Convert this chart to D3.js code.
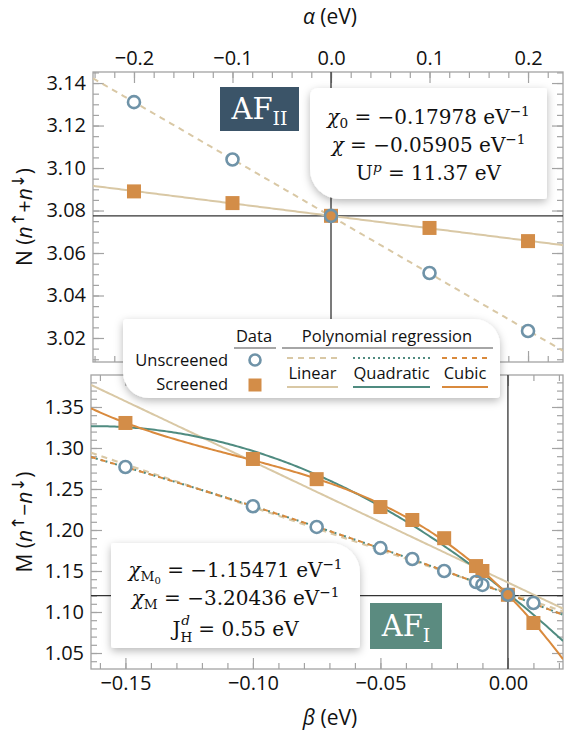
<!DOCTYPE html>
<meta charset="utf-8">
<script src="https://d3js.org/d3.v7.min.js"></script>
<style>
body { margin: 0; background-color: white; }
text { font-family: "Open Sans", "Noto Sans", sans-serif; fill: #111; }
</style>
<body>
<script>
// ---- data ----
var alphaVals = [-0.2, -0.1, 0.0, 0.1, 0.2];
var nUnscreened = [3.131, 3.104, 3.0775, 3.0506, 3.0233];
var nScreened = [3.089, 3.0835, 3.0775, 3.0718, 3.0656];

var betaVals = [-0.15, -0.1, -0.075, -0.05, -0.0375, -0.025, -0.0125, -0.01, 0.0, 0.01];
var mUnscreened = [1.2768, 1.229, 1.2037, 1.178, 1.1646, 1.15, 1.1366, 1.133, 1.121, 1.111];
var mScreened = [1.3305, 1.2866, 1.262, 1.228, 1.2122, 1.19, 1.156, 1.15, 1.121, 1.0866];

var alphaTicks = [-0.2, -0.1, 0.0, 0.1, 0.2];
var nTicks = [3.02, 3.04, 3.06, 3.08, 3.10, 3.12, 3.14];
var betaTicks = [-0.15, -0.10, -0.05, 0.00];
var mTicks = [1.05, 1.10, 1.15, 1.20, 1.25, 1.30, 1.35];

var c = {
  circle: "#6f93a8", square: "#d38d48", tan: "#d9c8a5", teal: "#4f8b80",
  orange: "#d98a3d", frame: "#a3a3a3", afII: "#3b5468", afI: "#5b8b80"
};

var svg = d3.select("body").append("svg")
  .attr("width", 565).attr("height", 743);

var defs = svg.append("defs");
var f = defs.append("filter").attr("id", "shadow")
  .attr("x", "-20%").attr("y", "-20%").attr("width", "140%").attr("height", "150%");
f.append("feDropShadow").attr("dx", 0).attr("dy", 3).attr("stdDeviation", 4)
  .attr("flood-color", "#000").attr("flood-opacity", 0.28);

// least squares polynomial fit
function polyfit(xs, ys, deg) {
  var n = deg + 1, A = [], b = [], i, j, k;
  for (i = 0; i < n; i++) {
    A[i] = [];
    for (j = 0; j < n; j++) A[i][j] = d3.sum(xs, function(x) { return Math.pow(x, i + j); });
    b[i] = d3.sum(xs, function(x, q) { return ys[q] * Math.pow(x, i); });
  }
  for (i = 0; i < n; i++) {
    for (k = i + 1; k < n; k++) {
      var m = A[k][i] / A[i][i];
      for (j = i; j < n; j++) A[k][j] -= m * A[i][j];
      b[k] -= m * b[i];
    }
  }
  var co = [];
  for (i = n - 1; i >= 0; i--) {
    var s = b[i];
    for (j = i + 1; j < n; j++) s -= A[i][j] * co[j];
    co[i] = s / A[i][i];
  }
  return function(x) { return d3.sum(co, function(a, p) { return a * Math.pow(x, p); }); };
}

function roundBox(x0, y0, x1, y1, r) { // r = [tl, tr, br, bl]
  var p = d3.path();
  p.moveTo(x0 + r[0], y0);
  p.lineTo(x1 - r[1], y0); p.arcTo(x1, y0, x1, y0 + r[1], r[1]);
  p.lineTo(x1, y1 - r[2]); p.arcTo(x1, y1, x1 - r[2], y1, r[2]);
  p.lineTo(x0 + r[3], y1); p.arcTo(x0, y1, x0, y1 - r[3], r[3]);
  p.lineTo(x0, y0 + r[0]); p.arcTo(x0, y0, x0 + r[0], y0, r[0]);
  p.closePath();
  return p.toString();
}

function drawPanel(o) {
  var g = svg.append("g");
  var x = o.x, y = o.y;
  var x0 = x.range()[0], x1 = x.range()[1], y0 = y.range()[1], y1 = y.range()[0];

  defs.append("clipPath").attr("id", o.id).append("rect")
    .attr("x", x0).attr("y", y0).attr("width", x1 - x0).attr("height", y1 - y0);

  // ticks (inward)
  function ax(axisFn, pos, vals, size, fmt, labels) {
    var a = axisFn.tickValues(vals).tickSize(-size).tickSizeOuter(0).tickPadding(7)
      .tickFormat(labels ? fmt : "");
    var gg = g.append("g").attr("transform", pos).call(a);
    gg.select(".domain").remove();
    gg.selectAll("line").attr("stroke", c.frame).attr("stroke-width", 1.2);
    gg.selectAll("text").style("font-size", "20px").attr("fill", "#111");
    return gg;
  }
  var xf = d3.format(o.xfmt), yf = d3.format(".2f");
  ax(d3.axisBottom(x), "translate(0," + y1 + ")", o.xMinor, 6, xf, false);
  ax(d3.axisBottom(x), "translate(0," + y1 + ")", o.xTicks, 11, xf, o.xLabelBottom);
  ax(d3.axisTop(x), "translate(0," + y0 + ")", o.xMinor, 6, xf, false);
  ax(d3.axisTop(x), "translate(0," + y0 + ")", o.xTicks, 11, xf, !o.xLabelBottom);
  ax(d3.axisLeft(y), "translate(" + x0 + ",0)", o.yMinor, 6, yf, false);
  ax(d3.axisLeft(y), "translate(" + x0 + ",0)", o.yTicks, 11, yf, true);
  ax(d3.axisRight(y), "translate(" + x1 + ",0)", o.yMinor, 6, yf, false);
  ax(d3.axisRight(y), "translate(" + x1 + ",0)", o.yTicks, 11, yf, false);

  g.append("rect").attr("x", x0).attr("y", y0).attr("width", x1 - x0).attr("height", y1 - y0)
    .attr("fill", "none").attr("stroke", c.frame).attr("stroke-width", 1.3);

  var inner = g.append("g").attr("clip-path", "url(#" + o.id + ")");
  // crosshair
  inner.append("line").attr("x1", x(0)).attr("x2", x(0)).attr("y1", y0).attr("y2", y1)
    .attr("stroke", "#333").attr("stroke-width", 1.3);
  inner.append("line").attr("x1", x0).attr("x2", x1).attr("y1", y(o.cross)).attr("y2", y(o.cross))
    .attr("stroke", "#333").attr("stroke-width", 1.3);

  // fits
  var dom = x.domain();
  var xsamp = d3.range(dom[0], dom[1] + 0.0001, (dom[1] - dom[0]) / 200);
  var line = d3.line().x(function(d) { return x(d[0]); }).y(function(d) { return y(d[1]); });
  o.fits.forEach(function(fi) {
    var fn = polyfit(o.xs, fi.ys, fi.deg);
    inner.append("path").datum(xsamp.map(function(v) { return [v, fn(v)]; }))
      .attr("d", line).attr("fill", "none").attr("stroke", fi.color)
      .attr("stroke-width", fi.w || 2).attr("stroke-dasharray", fi.dash || null);
  });

  // points
  inner.selectAll(".cfill").data(o.xs).enter().append("circle")
    .attr("cx", function(d) { return x(d); }).attr("cy", function(d, i) { return y(o.unscr[i]); })
    .attr("r", 6).attr("fill", "white");
  inner.selectAll(".sq").data(o.xs).enter().append("rect")
    .attr("x", function(d) { return x(d) - 7; }).attr("y", function(d, i) { return y(o.scr[i]) - 7; })
    .attr("width", 14).attr("height", 14).attr("fill", c.square);
  inner.selectAll(".cring").data(o.xs).enter().append("circle")
    .attr("cx", function(d) { return x(d); }).attr("cy", function(d, i) { return y(o.unscr[i]); })
    .attr("r", 6).attr("fill", "none").attr("stroke", c.circle).attr("stroke-width", 2.6);
  return g;
}

function subTicks(lo, hi, step) {
  return d3.range(Math.round(lo / step), Math.round(hi / step) + 1).map(function(k) { return +(k * step).toFixed(4); });
}

// ---- top panel ----
var xA = d3.scaleLinear().domain([-0.2416, 0.2355]).range([93, 563]);
var yN = d3.scaleLinear().domain([3.0087, 3.1452]).range([362, 72]);
drawPanel({
  id: "clipTop", x: xA, y: yN, xfmt: ".1f", xTicks: alphaTicks, yTicks: nTicks,
  xMinor: subTicks(-0.24, 0.22, 0.02), yMinor: subTicks(3.01, 3.145, 0.005),
  xLabelBottom: false, cross: nUnscreened[2], xs: alphaVals, unscr: nUnscreened, scr: nScreened,
  fits: [
    { ys: nUnscreened, deg: 1, color: c.tan, dash: "6,5" },
    { ys: nScreened, deg: 1, color: c.tan }
  ]
});

// ---- bottom panel ----
var xB = d3.scaleLinear().domain([-0.1635, 0.0216]).range([91, 563]);
var yM = d3.scaleLinear().domain([1.0305, 1.389]).range([669, 375]);
drawPanel({
  id: "clipBot", x: xB, y: yM, xfmt: ".2f", xTicks: betaTicks, yTicks: mTicks,
  xMinor: subTicks(-0.16, 0.02, 0.01), yMinor: subTicks(1.04, 1.38, 0.01),
  xLabelBottom: true, cross: 1.12, xs: betaVals, unscr: mUnscreened, scr: mScreened,
  fits: [
    { ys: mScreened, deg: 1, color: c.tan },
    { ys: mScreened, deg: 2, color: c.teal },
    { ys: mScreened, deg: 3, color: c.orange },
    { ys: mUnscreened, deg: 1, color: c.tan, dash: "6,5", w: 2.2 },
    { ys: mUnscreened, deg: 2, color: c.teal, dash: "2,3" },
    { ys: mUnscreened, deg: 3, color: c.orange, dash: "5,5" }
  ]
});

// ---- rich text helper (sub / superscripts) ----
function addRich(sel, parts, base) {
  var shift = 0;
  parts.forEach(function(p) {
    var s = sel.append("tspan").text(p.t);
    var target = p.sub ? 0.22 : (p.sup ? -0.4 : 0);
    if (p.subsub) target = 0.36;
    if (p.shift !== undefined) target = p.shift;
    var fs = p.sub || p.sup ? base * 0.68 : base;
    if (p.subsub) fs = base * 0.5;
    if (p.scale) fs = base * p.scale;
    var dy = target * base - shift;
    if (dy !== 0) s.attr("dy", dy);
    shift = target * base;
    s.style("font-size", fs + "px");
    if (p.i) s.style("font-style", "italic");
    if (p.font) s.style("font-family", p.font);
    if (p.dx) s.attr("dx", p.dx);
  });
}

var ta = svg.append("text").attr("x", 330).attr("y", 24).attr("text-anchor", "middle");
addRich(ta, [{ t: "α", i: true }, { t: " (eV)" }], 21);
var tb = svg.append("text").attr("x", 330).attr("y", 725).attr("text-anchor", "middle");
addRich(tb, [{ t: "β", i: true }, { t: " (eV)" }], 21);

var arrowFont = "DejaVu Sans, sans-serif";
var tn = svg.append("text").attr("transform", "translate(32,217) rotate(-90)").attr("text-anchor", "middle");
addRich(tn, [{ t: "N (" }, { t: "n", i: true }, { t: "↑", sup: true, font: arrowFont, scale: 0.8 }, { t: "+" },
  { t: "n", i: true }, { t: "↓", sup: true, font: arrowFont, scale: 0.8 }, { t: ")" }], 21);
var tm = svg.append("text").attr("transform", "translate(32,522) rotate(-90)").attr("text-anchor", "middle");
addRich(tm, [{ t: "M (" }, { t: "n", i: true }, { t: "↑", sup: true, font: arrowFont, scale: 0.8 }, { t: "−" },
  { t: "n", i: true }, { t: "↓", sup: true, font: arrowFont, scale: 0.8 }, { t: ")" }], 21);

// ---- AF labels ----
function afLabel(x0, y0, w, h, fill, sub) {
  svg.append("rect").attr("x", x0).attr("y", y0).attr("width", w).attr("height", h).attr("fill", fill);
  var t = svg.append("text").attr("x", x0 + w / 2).attr("y", y0 + h / 2 + 10)
    .attr("text-anchor", "middle").style("font-family", "DejaVu Serif, serif");
  t.append("tspan").text("AF").style("font-size", "29px").attr("fill", "white");
  t.append("tspan").text(sub).attr("dy", 6).style("font-size", "19px").attr("fill", "white");
}
afLabel(220, 87, 79, 44, c.afII, "II");
afLabel(370, 603, 72, 46, c.afI, "I");

// ---- parameter boxes ----
function mathBox(x0, y0, x1, y1, r, lines) {
  svg.append("path").attr("d", roundBox(x0, y0, x1, y1, r))
    .attr("fill", "white").attr("filter", "url(#shadow)");
  lines.forEach(function(L) {
    var t = svg.append("text").attr("x", (x0 + x1) / 2).attr("y", L.y).attr("text-anchor", "middle")
      .style("font-family", "DejaVu Serif, serif");
    addRich(t, L.parts, 20);
  });
}
mathBox(310, 88, 547, 199, [8, 3, 3, 30], [
  { y: 124, parts: [{ t: "χ", i: true }, { t: "0", sub: true }, { t: " = −0.17978 eV" }, { t: "−1", sup: true }] },
  { y: 152, parts: [{ t: "χ", i: true }, { t: "  = −0.05905 eV" }, { t: "−1", sup: true }] },
  { y: 180, parts: [{ t: "U" }, { t: "p", sup: true, i: true }, { t: " = 11.37 eV" }] }
]);
mathBox(111, 543, 360, 648, [3, 30, 3, 3], [
  { y: 577, parts: [{ t: "χ", i: true }, { t: "M", sub: true }, { t: "0", subsub: true }, { t: " = −1.15471 eV" }, { t: "−1", sup: true }] },
  { y: 605, parts: [{ t: "χ", i: true }, { t: "M", sub: true }, { t: " = −3.20436 eV" }, { t: "−1", sup: true }] },
  { y: 636, parts: [{ t: "J" }, { t: "H", sub: true, shift: 0.3 }, { t: "d", sup: true, i: true, dx: -11, shift: -0.55 }, { t: " = 0.55 eV", dx: 2 }] }
]);

// ---- legend ----
var lg = svg.append("g");
lg.append("path").attr("d", roundBox(123, 319, 500, 398, [4, 26, 4, 26]))
  .attr("fill", "white").attr("filter", "url(#shadow)");
function ltext(x, y, s, anchor) {
  lg.append("text").attr("x", x).attr("y", y).attr("text-anchor", anchor || "middle")
    .style("font-size", "16.5px").attr("fill", "#222").text(s);
}
ltext(254, 342, "Data");
ltext(387, 342, "Polynomial regression");
lg.append("line").attr("x1", 234).attr("x2", 276).attr("y1", 348).attr("y2", 348).attr("stroke", "#888").attr("stroke-width", 1.3);
lg.append("line").attr("x1", 282).attr("x2", 493).attr("y1", 348).attr("y2", 348).attr("stroke", "#888").attr("stroke-width", 1.3);
ltext(228, 366, "Unscreened", "end");
ltext(228, 390, "Screened", "end");
lg.append("circle").attr("cx", 255).attr("cy", 360).attr("r", 5.5).attr("fill", "white")
  .attr("stroke", c.circle).attr("stroke-width", 2.6);
lg.append("rect").attr("x", 248.5).attr("y", 378.5).attr("width", 13).attr("height", 13).attr("fill", c.square);

var legendFits = [
  { name: "Linear", x1: 287, x2: 338, color: c.tan, dash: "6,5" },
  { name: "Quadratic", x1: 353, x2: 430, color: c.teal, dash: "2,3" },
  { name: "Cubic", x1: 442, x2: 488, color: c.orange, dash: "5,5" }
];
legendFits.forEach(function(d) {
  lg.append("line").attr("x1", d.x1).attr("x2", d.x2).attr("y1", 358).attr("y2", 358)
    .attr("stroke", d.color).attr("stroke-width", 2).attr("stroke-dasharray", d.dash);
  ltext((d.x1 + d.x2) / 2, 379, d.name);
  lg.append("line").attr("x1", d.x1).attr("x2", d.x2).attr("y1", 387).attr("y2", 387)
    .attr("stroke", d.color).attr("stroke-width", 2.2);
});
</script>
</body>
